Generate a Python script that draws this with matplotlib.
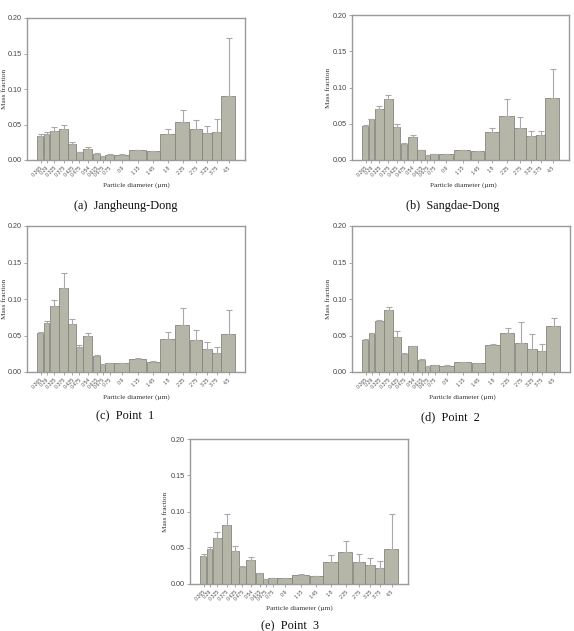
import matplotlib
matplotlib.use("Agg")
import matplotlib.pyplot as plt
from matplotlib.ticker import NullLocator, FixedLocator
import numpy as np

# Bin edges (µm) and labelled mid-points
bin_edges = [0.25, 0.277, 0.303, 0.35, 0.40, 0.45, 0.50, 0.58, 0.65, 0.70, 0.80,
             1.0, 1.3, 1.6, 2.0, 2.5, 3.0, 3.5, 4.0, 5.0]
size_labels = ["0.265", "0.29", "0.325", "0.375", "0.425", "0.475", "0.54", "0.615",
               "0.675", "0.75", "0.9", "1.15", "1.45", "1.8", "2.25", "2.75", "3.25",
               "3.75", "4.5"]

jangheung = [0.034, 0.037, 0.041, 0.043, 0.023, 0.011, 0.016, 0.009, 0.005, 0.0075,
             0.0075, 0.0136, 0.012, 0.036, 0.054, 0.043, 0.038, 0.040, 0.0906]
jangheung_err = [0.003, 0.003, 0.0055, 0.007, 0.003, 0.0005, 0.002, 0.0008, 0.0005, 0.0005,
                 0.0005, 0.0009, 0.0006, 0.0075, 0.017, 0.014, 0.010, 0.018, 0.081]

sangdae = [0.047, 0.056, 0.071, 0.0835, 0.046, 0.0225, 0.0317, 0.0138, 0.0064, 0.0083,
           0.0078, 0.0138, 0.012, 0.038, 0.061, 0.044, 0.0335, 0.0344, 0.085]
sangdae_err = [0.0008, 0.001, 0.003, 0.0065, 0.0035, 0.0006, 0.0023, 0.0006, 0.0005, 0.0005,
               0.0004, 0.0005, 0.0005, 0.0056, 0.023, 0.0147, 0.006, 0.0056, 0.040]

point1 = [0.054, 0.067, 0.090, 0.115, 0.0656, 0.0337, 0.0497, 0.0219, 0.0105, 0.0123,
          0.0118, 0.018, 0.014, 0.0456, 0.065, 0.044, 0.032, 0.026, 0.052]
point1_err = [0.001, 0.003, 0.009, 0.020, 0.0074, 0.0033, 0.0043, 0.0009, 0.0008, 0.0005,
              0.0004, 0.001, 0.0008, 0.0091, 0.0225, 0.013, 0.0085, 0.008, 0.033]

point2 = [0.0443, 0.0534, 0.070, 0.085, 0.0475, 0.0242, 0.0352, 0.016, 0.0078, 0.009,
          0.0087, 0.0137, 0.0123, 0.0374, 0.053, 0.0397, 0.0315, 0.0288, 0.0626]
point2_err = [0.0005, 0.0005, 0.0017, 0.0036, 0.0082, 0.0018, 0.0004, 0.0013, 0.0004, 0.0004,
              0.0004, 0.0005, 0.0005, 0.001, 0.0077, 0.0293, 0.021, 0.010, 0.0114]

point3 = [0.039, 0.048, 0.064, 0.081, 0.046, 0.0235, 0.0336, 0.0147, 0.0069, 0.0083,
          0.0078, 0.0129, 0.0106, 0.031, 0.0438, 0.030, 0.0258, 0.0226, 0.0484]
point3_err = [0.0025, 0.003, 0.008, 0.016, 0.007, 0.0009, 0.0037, 0.0005, 0.0004, 0.0004,
              0.0004, 0.0009, 0.0005, 0.0086, 0.0156, 0.011, 0.0102, 0.0087, 0.0484]

captions = ["(a)  Jangheung-Dong", "(b)  Sangdae-Dong", "(c)  Point  1",
            "(d)  Point  2", "(e)  Point  3"]
series = [(jangheung, jangheung_err), (sangdae, sangdae_err), (point1, point1_err),
          (point2, point2_err), (point3, point3_err)]

W, H = 574, 631
fig = plt.figure(figsize=(W / 100, H / 100), dpi=100)
fig.patch.set_facecolor("white")

# axes rectangles in pixels: left, top, right, bottom
rects = [(27, 18, 245, 160), (352, 15, 569, 160), (27, 226, 245, 372),
         (352, 226, 570, 372), (190, 439, 408, 584)]
caption_pos = [(126, 206), (453, 206), (125, 416), (450, 417), (290, 626)]
xlabel_pos = [(136, 185), (463, 185), (136, 397), (462, 397), (299, 608)]
ylabel_x = [5, 328, 5, 328, 165]

frame_col = "#9a9a9a"
bar_face = "#b5b5a8"
bar_edge = "#85857d"
err_col = "#a9a9a9"
serif = ["Liberation Serif", "DejaVu Serif"]
sans = ["Liberation Sans", "DejaVu Sans"]

edges = np.array(bin_edges)
lefts = edges[:-1]
rights = edges[1:]
centers = np.array([float(s) for s in size_labels])

for i, (rect, (vals, errs)) in enumerate(zip(rects, series)):
    l, t, r, b = rect
    ax = fig.add_axes([l / W, 1 - b / H, (r - l) / W, (b - t) / H])
    ax.set_xscale("log")
    ll = np.log(lefts)
    rr = np.log(rights)
    pad = (rr - ll) * 0.02
    bl = np.exp(ll + pad)
    br = np.exp(rr - pad)
    ax.bar(bl, vals, width=br - bl, align="edge", color=bar_face,
           edgecolor=bar_edge, linewidth=0.6, zorder=2)
    ax.errorbar(centers, vals, yerr=[np.zeros(len(errs)), errs], fmt="none",
                ecolor=err_col, elinewidth=0.8, capsize=2.0, capthick=0.8, zorder=3)
    ax.set_xlim(0.216, 5.75)
    ax.set_ylim(0, 0.20)
    ax.xaxis.set_minor_locator(NullLocator())
    ax.xaxis.set_major_locator(FixedLocator(centers))
    ax.set_xticklabels(size_labels, rotation=45, ha="right", va="top",
                       fontsize=3.8, family=sans, color="#555555",
                       rotation_mode="anchor")
    ax.set_yticks([0.0, 0.05, 0.10, 0.15, 0.20])
    ax.set_yticklabels(["0.00", "0.05", "0.10", "0.15", "0.20"], fontsize=5.2,
                       family=sans, color="#444444")
    ax.tick_params(axis="both", which="major", direction="out", length=2,
                   width=0.6, color=frame_col, pad=1.5)
    for sp in ax.spines.values():
        sp.set_color(frame_col)
        sp.set_linewidth(1.0)
    ax.set_facecolor("white")

    xx, yy = xlabel_pos[i]
    fig.text(xx / W, 1 - yy / H, "Particle diameter (\u00b5m)", fontsize=5.2,
             family=serif, ha="center", va="center", color="#333333")
    fig.text(ylabel_x[i] / W, 1 - ((t + b) / 2) / H, "Mass fraction", fontsize=5.2,
             family=serif, ha="center", va="center", rotation=90, color="#333333")
    cx, cy = caption_pos[i]
    fig.text(cx / W, 1 - cy / H, captions[i], fontsize=8.8, family=serif,
             ha="center", va="center", color="#111111")

fig.savefig("out.png", dpi=100, facecolor="white")
